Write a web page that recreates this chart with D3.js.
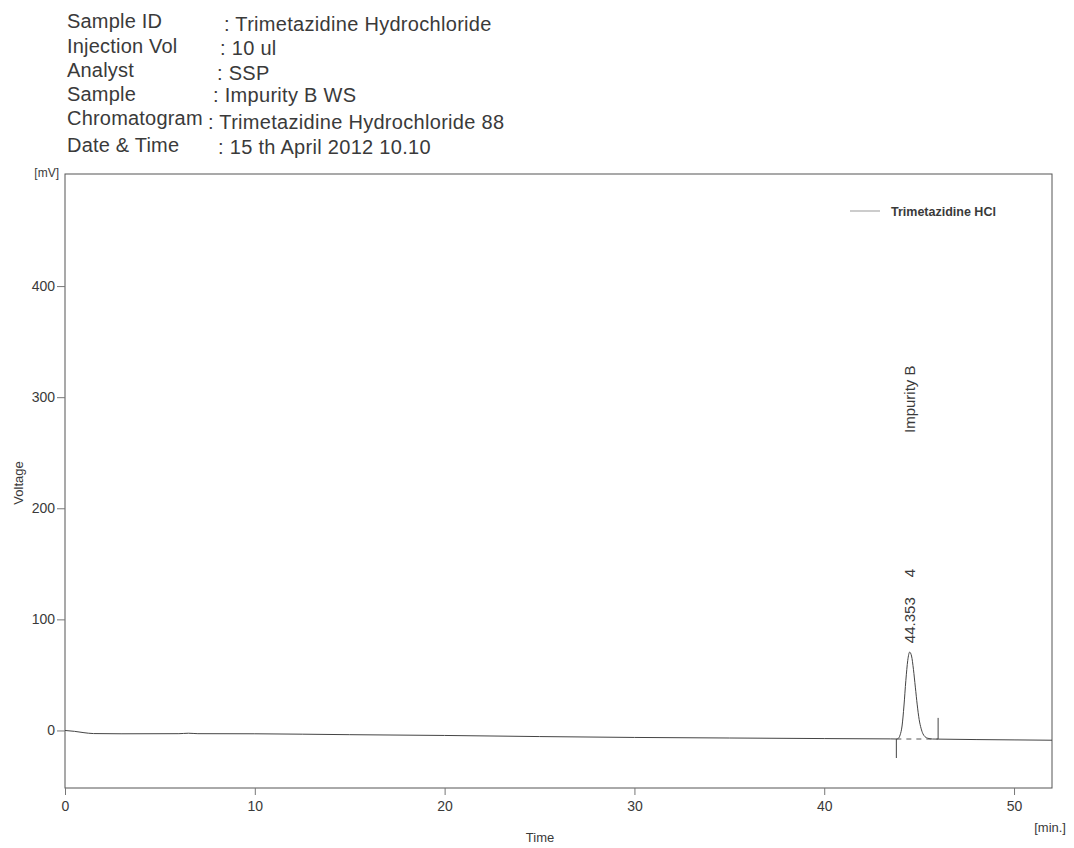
<!doctype html>
<html>
<head>
<meta charset="utf-8">
<title>Chromatogram</title>
<script src="https://cdn.jsdelivr.net/npm/d3@7"></script>
<style>
  body { margin: 0; background: #fff; }
  text { font-family: "Liberation Sans", Arial, sans-serif; fill: #3a3a3a; }
</style>
</head>
<body>
<script>
// header block
var headerLabels = ["Sample ID", "Injection Vol", "Analyst", "Sample", "Chromatogram", "Date & Time"];
var headerValues = [": Trimetazidine Hydrochloride", ": 10 ul", ": SSP", ": Impurity B  WS",
                    ": Trimetazidine Hydrochloride 88", ": 15 th April 2012  10.10"];

// signal (time in min, voltage in mV)
var times = [0, 0.5, 1, 1.5, 3, 6, 6.5, 7, 10, 15, 20, 25, 30, 35, 40, 43.5, 43.8,
             43.9, 44.0, 44.1, 44.2, 44.3, 44.4, 44.5, 44.6, 44.7, 44.8, 44.9, 45.0,
             45.1, 45.2, 45.3, 45.45, 45.7, 46.0, 48, 50, 52];
var volts = [0, -0.8, -2, -2.8, -3, -2.9, -2.5, -2.9, -3, -3.8, -4.5, -5.5, -6.3, -6.8, -7.3, -7.6, -7.7,
             -7.2, -4, 4, 22, 45, 63, 70.5, 67, 55, 39, 23, 10,
             2, -3, -5.5, -7, -7.7, -7.8, -8.2, -8.5, -8.8];

// peak annotation
var peakTime = 44.5;
var peakTop = 70.5;
var peakRT = "44.353";
var peakNo = "4";
var peakName = "Impurity B";
var peakStart = 43.8, peakEnd = 46.0;
var peakBase = -7.7;
var startMarkLow = -24.8, endMarkHigh = 11.3;

var xTicks = [0, 10, 20, 30, 40, 50];
var yTicks = [0, 100, 200, 300, 400];
var seriesName = "Trimetazidine HCl";

var W = 1074, H = 848;
var svg = d3.select("body").append("svg")
    .attr("width", W)
    .attr("height", H);

// header text
var headerBase = [28, 53, 77, 101, 125, 152];
var valueShift = [3, 2, 3, 1, 4, 2];
var valueX = [224, 220, 217, 213, 208, 218];

headerLabels.forEach(function(t, i) {
    svg.append("text")
        .attr("x", 67)
        .attr("y", headerBase[i])
        .attr("font-size", "20px")
        .style("letter-spacing", "0.2px")
        .text(t);
    svg.append("text")
        .attr("x", valueX[i])
        .attr("y", headerBase[i] + valueShift[i])
        .attr("font-size", "20px")
        .style("letter-spacing", "0.3px")
        .text(headerValues[i]);
});

// plot area
var plotL = 65, plotR = 1052, plotT = 174, plotB = 788;

var x = d3.scaleLinear().domain([0, 52]).range([plotL, plotR]);
var y = d3.scaleLinear().domain([-50, 500]).range([plotB - 2, plotT + 1]);

svg.append("rect")
    .attr("x", plotL)
    .attr("y", plotT)
    .attr("width", plotR - plotL)
    .attr("height", plotB - plotT)
    .attr("fill", "none")
    .attr("stroke", "#555")
    .attr("stroke-width", 1);

var xAxis = svg.append("g")
    .attr("transform", "translate(0," + plotB + ")")
    .call(d3.axisBottom(x).tickValues(xTicks).tickSize(7).tickPadding(6).tickFormat(d3.format("d")));

var yAxis = svg.append("g")
    .attr("transform", "translate(" + plotL + ",0)")
    .call(d3.axisLeft(y).tickValues(yTicks).tickSize(8).tickPadding(2).tickFormat(d3.format("d")));

[xAxis, yAxis].forEach(function(a) {
    a.select(".domain").remove();
    a.selectAll(".tick line").attr("stroke", "#777");
    a.selectAll(".tick text")
        .attr("font-size", "14px")
        .attr("font-family", "Liberation Sans, Arial, sans-serif")
        .attr("fill", "#444");
});

svg.append("text")
    .attr("x", plotL - 6)
    .attr("y", plotT + 3)
    .attr("text-anchor", "end")
    .attr("font-size", "12px")
    .text("[mV]");

svg.append("text")
    .attr("transform", "translate(23,483) rotate(-90)")
    .attr("text-anchor", "middle")
    .attr("font-size", "13px")
    .text("Voltage");

svg.append("text")
    .attr("x", 540)
    .attr("y", 842)
    .attr("text-anchor", "middle")
    .attr("font-size", "13px")
    .text("Time");

svg.append("text")
    .attr("x", 1066)
    .attr("y", 832)
    .attr("text-anchor", "end")
    .attr("font-size", "13px")
    .text("[min.]");

// signal line
var line = d3.line()
    .x(function(d, i) { return x(times[i]); })
    .y(function(d) { return y(d); })
    .curve(d3.curveMonotoneX);

svg.append("path")
    .datum(volts)
    .attr("d", line)
    .attr("fill", "none")
    .attr("stroke", "#444")
    .attr("stroke-width", 1);

// integration baseline and markers
svg.append("line")
    .attr("x1", x(peakStart)).attr("y1", y(peakBase))
    .attr("x2", x(peakEnd)).attr("y2", y(peakBase))
    .attr("stroke", "#555")
    .attr("stroke-dasharray", "5,5");

svg.append("line")
    .attr("x1", x(peakStart)).attr("y1", y(peakBase))
    .attr("x2", x(peakStart)).attr("y2", y(startMarkLow))
    .attr("stroke", "#444");

svg.append("line")
    .attr("x1", x(peakEnd)).attr("y1", y(peakBase))
    .attr("x2", x(peakEnd)).attr("y2", y(endMarkHigh))
    .attr("stroke", "#444");

// peak labels (rotated)
var px = x(peakTime) + 5;
svg.append("text")
    .attr("transform", "translate(" + px + "," + (y(peakTop) - 9) + ") rotate(-90)")
    .attr("font-size", "15px")
    .text(peakRT);

svg.append("text")
    .attr("transform", "translate(" + px + "," + (y(peakTop) - 75) + ") rotate(-90)")
    .attr("font-size", "15px")
    .text(peakNo);

svg.append("text")
    .attr("transform", "translate(" + px + "," + 433 + ") rotate(-90)")
    .attr("font-size", "15px")
    .text(peakName);

// legend
svg.append("line")
    .attr("x1", 850).attr("y1", 211)
    .attr("x2", 880).attr("y2", 211)
    .attr("stroke", "#999");

svg.append("text")
    .attr("x", 891)
    .attr("y", 216)
    .attr("font-size", "12.5px")
    .attr("font-weight", "bold")
    .text(seriesName);
</script>
</body>
</html>
